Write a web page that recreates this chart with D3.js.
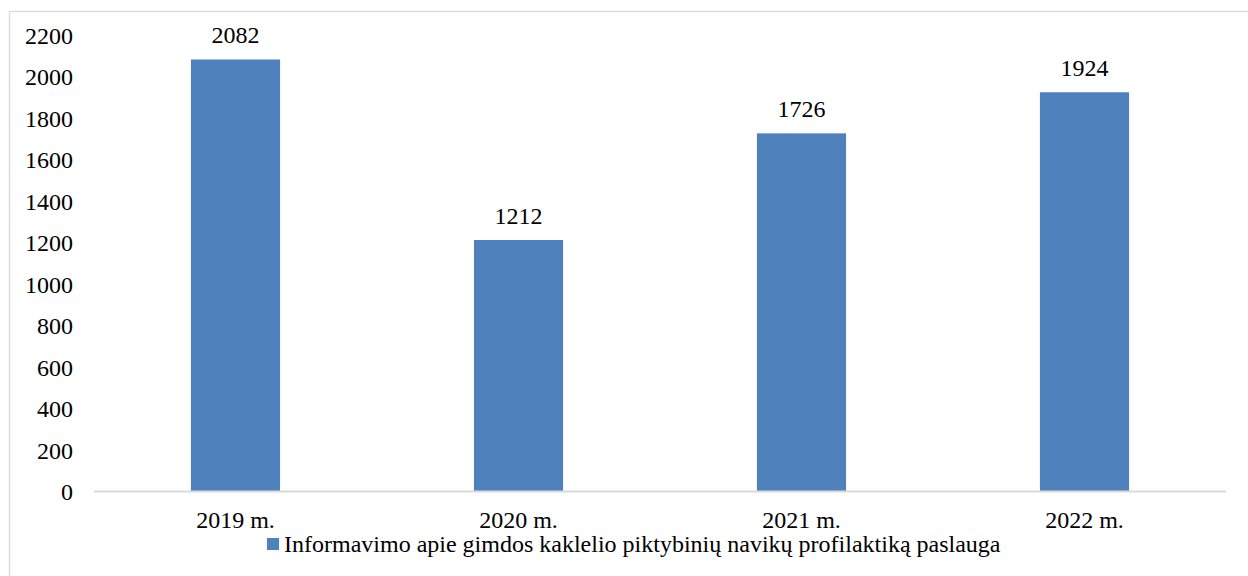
<!DOCTYPE html>
<html><head><meta charset="utf-8">
<script src="https://cdn.jsdelivr.net/npm/d3@7"></script>
</head><body style="margin:0"><svg id="c" width="1248" height="576" font-family="Liberation Serif" style="display:block;background:#fff"></svg>
<script>
const categories = ["2019 m.", "2020 m.", "2021 m.", "2022 m."];
const values = [2082, 1212, 1726, 1924];
const yTicks = [0, 200, 400, 600, 800, 1000, 1200, 1400, 1600, 1800, 2000, 2200];
const seriesName = "Informavimo apie gimdos kaklelio piktybinių navikų profilaktiką paslauga";

const svg = d3.select("#c");
const font = "Liberation Serif";
const fs = 24;
const color = "#4f81bd";

svg.append("rect").attr("x", 9.5).attr("y", 11.5).attr("width", 1260).attr("height", 600)
  .attr("fill", "#fff").attr("stroke", "#d9d9d9").attr("stroke-width", 1.3);

const x = d3.scaleBand().domain(categories).range([94, 1226]).paddingInner(0.685).paddingOuter(0.3425);
const y = d3.scaleLinear().domain([0, 2200]).range([491.5, 35]);

const g = svg.append("g");
g.selectAll("rect.bar").data(values).join("rect").attr("class", "bar")
  .attr("x", (d, i) => x(categories[i])).attr("width", x.bandwidth())
  .attr("y", d => y(d)).attr("height", d => y(0) - y(d)).attr("fill", color);

g.selectAll("text.lbl").data(values).join("text").attr("class", "lbl")
  .attr("x", (d, i) => x(categories[i]) + x.bandwidth() / 2).attr("y", d => y(d) - 16.5)
  .attr("text-anchor", "middle").attr("font-family", font).attr("font-size", fs).attr("fill", "#000")
  .text(d => d);

const yAxis = d3.axisLeft(y).tickValues(yTicks).tickFormat(d3.format("d")).tickSize(0).tickPadding(0);
const ya = svg.append("g").attr("transform", "translate(73,0)").call(yAxis)
  .attr("font-family", font).attr("font-size", fs);
ya.select(".domain").remove();
ya.selectAll("text").attr("fill", "#000").attr("dy", "0.34em");

const xAxis = d3.axisBottom(x).tickSize(0).tickPadding(0);
const xa = svg.append("g").attr("transform", `translate(0,${y(0)})`).call(xAxis)
  .attr("font-family", font).attr("font-size", fs);
xa.select(".domain").attr("stroke", "#d9d9d9").attr("stroke-width", 2).attr("d", "M94,0H1226");
xa.selectAll("text").attr("fill", "#000").attr("dy", null).attr("y", 36.5);

const leg = svg.append("g");
leg.append("rect").attr("x", 267).attr("y", 538).attr("width", 12).attr("height", 12).attr("fill", color);
leg.append("text").attr("x", 284).attr("y", 552).attr("font-family", font).attr("font-size", fs)
  .attr("fill", "#000").text(seriesName);
</script></body></html>
